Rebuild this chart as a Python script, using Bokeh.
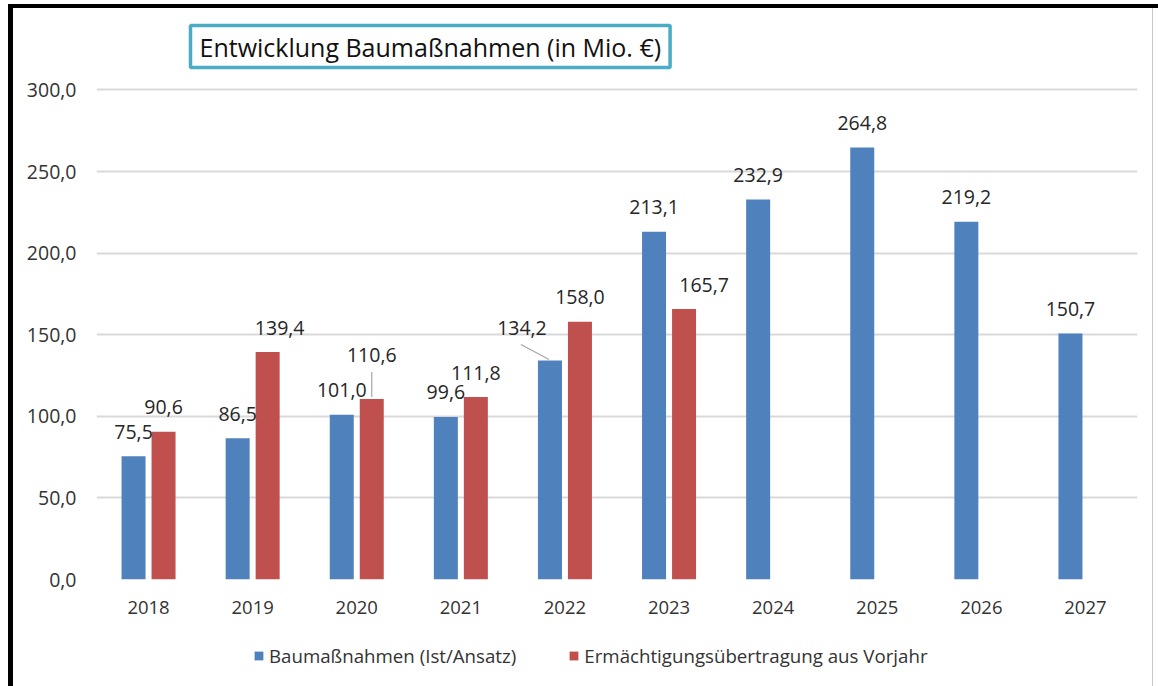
import numpy as np
from bokeh.plotting import figure
from bokeh.layouts import column
from bokeh.models import (ColumnDataSource, Range1d, FixedTicker, Legend, LegendItem)
from bokeh.core.properties import value
from bokeh.embed import file_html
from bokeh.resources import INLINE

# ---------------- data ----------------
years = ["2018", "2019", "2020", "2021", "2022", "2023", "2024", "2025", "2026", "2027"]
bau_values = [75.5, 86.5, 101.0, 99.6, 134.2, 213.1, 232.9, 264.8, 219.2, 150.7]
erm_years = ["2018", "2019", "2020", "2021", "2022", "2023"]
erm_values = [90.6, 139.4, 110.6, 111.8, 158.0, 165.7]
y_ticks = [0, 50, 100, 150, 200, 250, 300]
title_text = "Entwicklung Baumaßnahmen (in Mio. €)"
series_names = ["Baumaßnahmen (Ist/Ansatz)", "Ermächtigungsübertragung aus Vorjahr"]

# label nudges in px (x: right, y: up) -- styling only
bau_label_dx = [0, 0, 0, 0, -28, 0, 0, 0, 0, 0]
bau_label_dy = [0, 0, 0, 0, 8, 0, 0, 0, 0, 0]
erm_label_dx = [0, 12, 0, 0, 0, 20]
erm_label_dy = [0, 0, 20, 0, 0, 0]

# ---------------- layout / style ----------------
W, H = 1158, 686
HL = 61                      # height of the legend strip at the bottom
HP = H - HL                  # height of the chart figure
ML, MR, MT = 96, 21, 87
MB = HP - 579
frame_w = W - ML - MR
frame_h = HP - MT - MB
BLUE = "#4F81BD"
RED = "#C0504D"
FONT = "Open Sans"
TXT = "#333333"
LBL = "#262626"
GRID = "#D9D9D9"

n = len(years)
x_start, x_end = -0.5, n - 0.5
y_start, y_end = 0, 301.5
ux = (x_end - x_start) / frame_w
uy = (y_end - y_start) / frame_h

bar_w = 24 * ux
shift = 15 * ux
BASE = 24.5  # px between bar top and label baseline


def fmt(v):
    return f"{v:.1f}".replace(".", ",")


idx = np.arange(n)
bau_x = idx - shift
erm_idx = np.array([years.index(y) for y in erm_years])
erm_x = erm_idx + shift

bau_src = ColumnDataSource(dict(
    x=bau_x, top=bau_values, label=[fmt(v) for v in bau_values],
    dx=bau_label_dx, dy=[-(BASE + d) for d in bau_label_dy]))
erm_src = ColumnDataSource(dict(
    x=erm_x, top=erm_values, label=[fmt(v) for v in erm_values],
    dx=erm_label_dx, dy=[-(BASE + d) for d in erm_label_dy]))

p = figure(width=W, height=HP,
           x_range=Range1d(x_start, x_end), y_range=Range1d(y_start, y_end),
           output_backend="svg", toolbar_location=None,
           min_border_left=ML, min_border_right=MR,
           min_border_top=MT, min_border_bottom=MB)
p.outline_line_color = None
p.background_fill_color = "white"
p.border_fill_color = None

p.vbar(x="x", top="top", width=bar_w, bottom=0, source=bau_src,
       fill_color=BLUE, line_color=None)
p.vbar(x="x", top="top", width=bar_w, bottom=0, source=erm_src,
       fill_color=RED, line_color=None)

for src in (bau_src, erm_src):
    p.text(x="x", y="top", text="label", source=src, x_offset="dx", y_offset="dy",
           text_align="center", text_baseline="alphabetic",
           text_font=value(FONT), text_font_size="19.5px", text_color=LBL)

# leader lines (derived from bar values + pixel nudges)
e20 = erm_years.index("2020")
i22 = years.index("2022")
lx0 = [erm_x[e20], bau_x[i22] - 1 * ux]
ly0 = [erm_values[e20] + 2 * uy, bau_values[i22] + 1 * uy]
lx1 = [erm_x[e20], bau_x[i22] - 29 * ux]
ly1 = [erm_values[e20] + 27 * uy, bau_values[i22] + 16 * uy]
p.segment(x0=lx0, y0=ly0, x1=lx1, y1=ly1, line_color="#A6A6A6", line_width=1.2)

# axes
p.xaxis.ticker = FixedTicker(ticks=list(range(n)))
p.xaxis.major_label_overrides = {i: y for i, y in enumerate(years)}
p.yaxis.ticker = FixedTicker(ticks=y_ticks)
p.yaxis.major_label_overrides = {t: fmt(t) for t in y_ticks}
for ax in (p.xaxis[0], p.yaxis[0]):
    ax.axis_line_color = None
    ax.major_tick_line_color = None
    ax.minor_tick_line_color = None
    ax.major_label_text_font = FONT
    ax.major_label_text_color = TXT
p.xaxis.major_label_text_font_size = "18.5px"
p.yaxis.major_label_text_font_size = "19.5px"
p.xaxis.major_label_standoff = 15
p.yaxis.major_label_standoff = 20
p.yaxis.major_tick_out = 0
p.xgrid.grid_line_color = None
p.ygrid.grid_line_color = GRID
p.ygrid.grid_line_width = 2

# title in a framed box
p.title.text = title_text
p.title.align = "left"
p.title.offset = 94
p.title.standoff = 40
p.title.text_font = FONT
p.title.text_font_size = "25px"
p.title.text_font_style = "normal"
p.title.text_color = "#111111"
p.title.border_line_color = "#4BACC6"
p.title.border_line_width = 3.5
p.title.background_fill_color = "white"
p.title.padding = dict(x=9, y=4)

# legend strip (separate figure so the legend is not clipped)
leg = figure(width=W, height=HL, x_range=Range1d(0, W), y_range=Range1d(0, HL),
             output_backend="svg", toolbar_location=None,
             x_axis_location=None, y_axis_location=None,
             min_border=0, min_border_left=0, min_border_right=0,
             min_border_top=0, min_border_bottom=0)
leg.outline_line_color = None
leg.background_fill_color = None
leg.border_fill_color = None
leg.grid.visible = False
# zero-height swatch carriers, only used to give the legend its colours
k_bau = leg.vbar(x=[0], top=[0], bottom=[0], width=0, fill_color=BLUE, line_color=None)
k_erm = leg.vbar(x=[0], top=[0], bottom=[0], width=0, fill_color=RED, line_color=None)
legend = Legend(items=[LegendItem(label=series_names[0], renderers=[k_bau], index=0),
                       LegendItem(label=series_names[1], renderers=[k_erm], index=0)],
                orientation="horizontal", location=(253 - ML, 18.5),
                glyph_width=11, glyph_height=11, label_standoff=5, spacing=52,
                label_height=25,
                label_text_font=FONT, label_text_font_size="18.7px",
                label_text_color=TXT, padding=0, margin=0,
                border_line_color=None, background_fill_alpha=0)
leg.add_layout(legend, "center")

layout = column(p, leg, spacing=0, styles={
    "box-shadow": ("inset 8px 4px 0 0 #ffffff, inset 13px 8px 0 0 #000000, "
                   "inset -5px 0 0 0 #ffffff, inset -6px 0 0 0 #c8c8c8"),
    "background-color": "white",
})

open("out.html", "w").write(file_html(layout, INLINE))
